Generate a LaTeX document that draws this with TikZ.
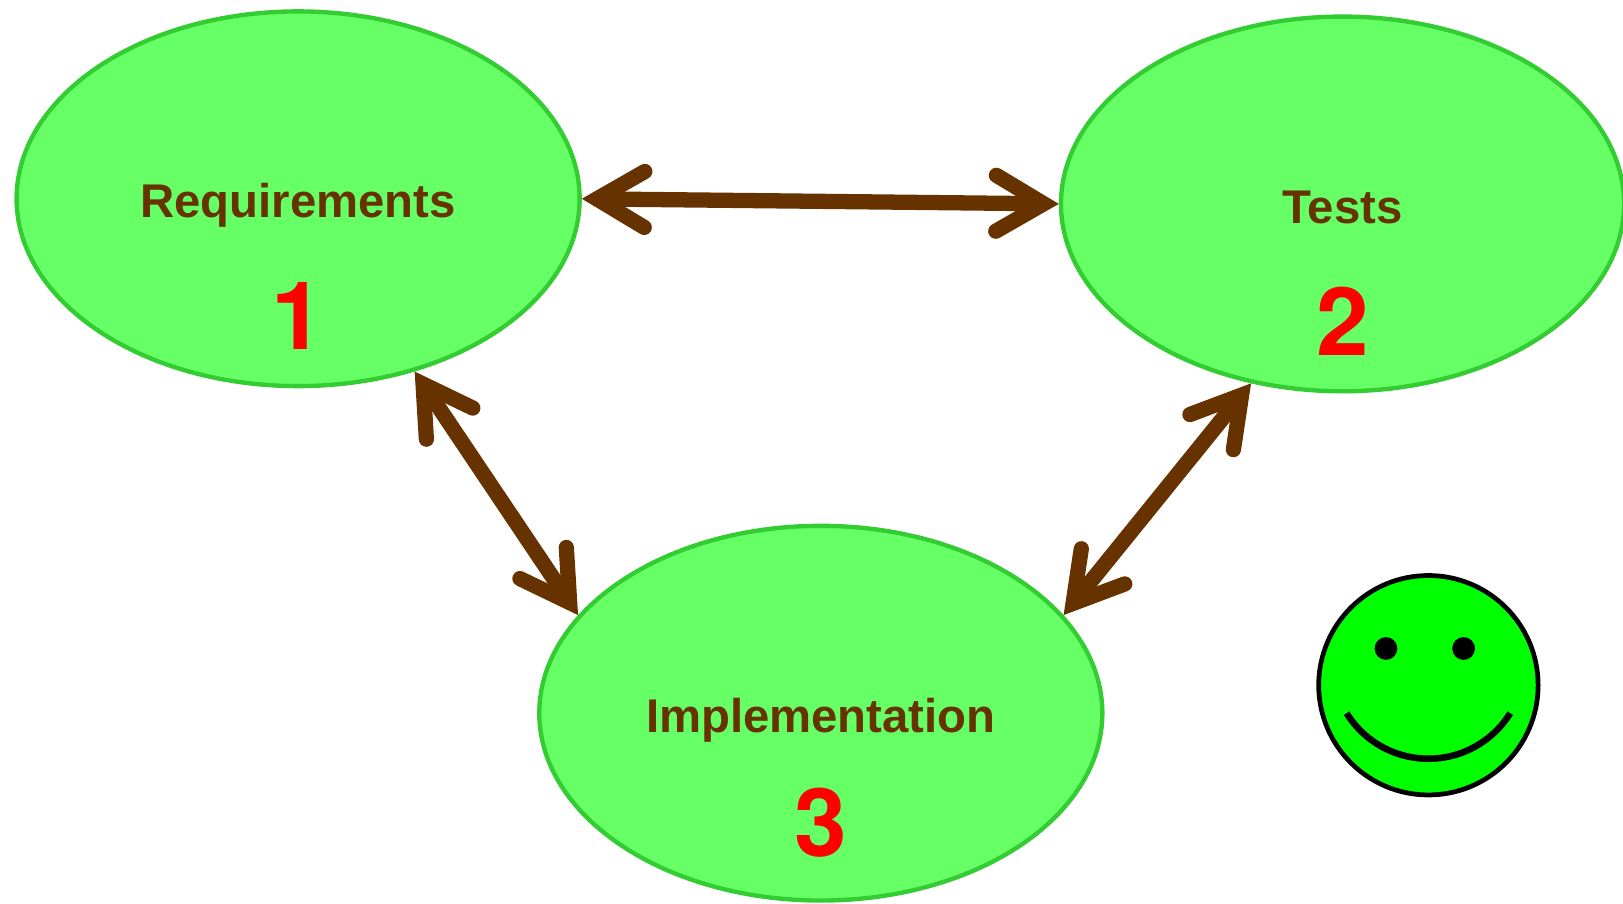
\documentclass[tikz,border=0pt]{standalone}
\usepackage{fontspec}
\setmainfont{Liberation Sans}
\newfontfamily\numberfont{TeX Gyre Heros}
\usetikzlibrary{arrows.meta,shapes.geometric}

\definecolor{stagegreen}{HTML}{66FF66}
\definecolor{stageborder}{HTML}{33CC33}
\definecolor{linkbrown}{HTML}{663300}
\definecolor{smileygreen}{HTML}{00FF00}

\begin{document}
\begin{tikzpicture}

	\tikzstyle stage=[ellipse, draw=stageborder, fill=stagegreen, line width=2.4pt, minimum width=10.88cm, minimum height=7.24cm, inner sep=0pt];
	\tikzstyle stage label=[anchor=base, text=linkbrown, font=\bfseries\fontsize{26}{30}\selectfont];
	\tikzstyle stage number=[anchor=base, text=red, font=\numberfont\bfseries\fontsize{52}{60}\selectfont];
	\tikzstyle link arrows=[draw=linkbrown, line width=8.4pt, >={Straight Barb[length=0.92cm, width=1.08cm, line cap=round, line join=miter]}, <->];
	\tikzstyle smiley face=[circle, draw=black, fill=smileygreen, line width=2.6pt, minimum size=4.24cm, inner sep=0pt];

	\useasboundingbox (0,0) rectangle (31.36,-17.45);

	\node[stage] (req) at (5.76,-3.84) {};
	\node[stage] (tests) at (25.94,-3.94) {};
	\node[stage] (impl) at (15.86,-13.78) {};

	\foreach \stg/\lbl/\num/\dy in {req/Requirements/1/2.92,tests/Tests/2/2.92,impl/Implementation/3/2.76} {
		\node[stage label] (\stg label) at ([yshift=-0.37cm]\stg.center) {\lbl};
		\node[stage number] (\stg number) at ([yshift=-\dy cm]\stg.center) {\num};
	}

	\draw[link arrows] (req.east) -- (tests.west);
	\draw[link arrows] (req.-56) -- (impl.158);
	\draw[link arrows] (tests.243) -- (impl.22);

	\node[smiley face] (smiley) at (27.6,-13.24) {};
		\foreach \dx in {-0.82,0.68}
			\fill (smiley.center) ++(\dx,0.71) circle (0.22);
		\draw[line width=3.6pt] ([yshift=0.44cm]smiley.center) ++(-148.2:1.86) arc[start angle=-148.2, end angle=-31.8, radius=1.86];

\end{tikzpicture}
\end{document}
